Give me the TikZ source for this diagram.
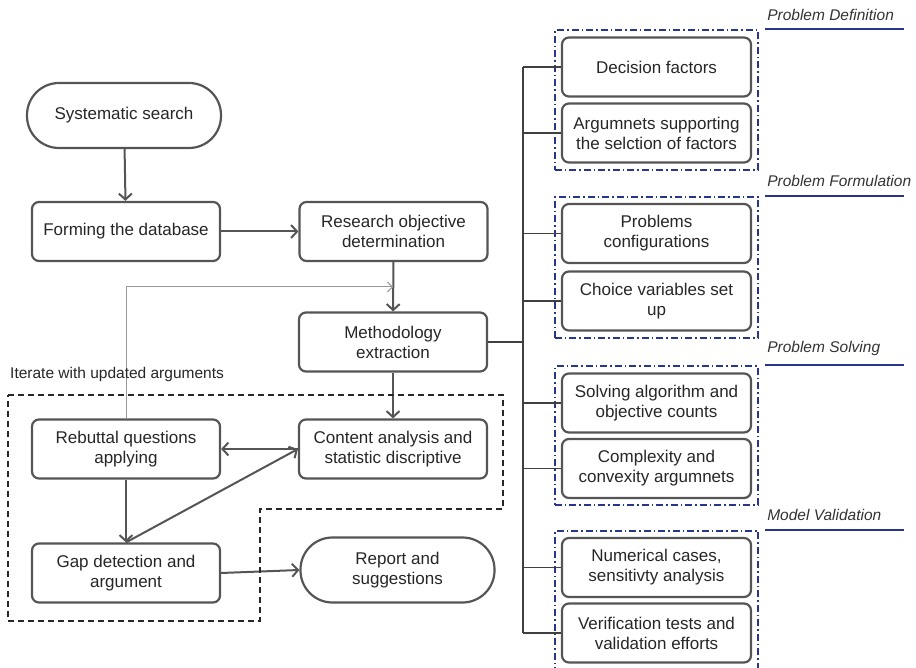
\documentclass[tikz,border=0pt]{standalone}
\usepackage{fontspec}
\setmainfont{Liberation Sans}
\usetikzlibrary{arrows.meta,positioning,fit}

\definecolor{boxgray}{HTML}{555555}
\definecolor{grpblue}{HTML}{27358A}

\begin{document}
\begin{tikzpicture}[
  x=1pt,y=-1pt,
  font=\fontsize{17}{20}\selectfont,
  box/.style={draw=boxgray,line width=2.2pt,rounded corners=7pt,align=center,minimum width=188pt,minimum height=59pt,inner sep=2pt,text=black!85},
  term/.style={box,rounded corners=32pt,minimum width=194pt,minimum height=65pt},
  rbox/.style={box,minimum width=189pt,minimum height=59pt},
  arr/.style={draw=boxgray,line width=2pt,-{Straight Barb[length=6pt,width=13pt,line width=2pt]}},
  thinarr/.style={draw=gray!80,line width=1pt,-{Straight Barb[length=5pt,width=10pt]}},
  bus/.style={draw=black!75,line width=1.3pt},
  grp/.style={draw=grpblue,line width=2pt,dash pattern=on 7pt off 3pt on 1.5pt off 3pt,inner sep=6pt},
  head/.style={font=\fontsize{15.5}{18}\selectfont\itshape,text=black!80,anchor=south west,inner sep=0pt},
  headline/.style={draw=grpblue,line width=2pt}
]
\useasboundingbox (0,0) rectangle (916,668);

% main flow
\node[term] (search) at (124,115.5) {Systematic search};
\node[box] (dbase) at (126,231.5) {Forming the database};
\node[box] (objective) at (393.5,231.5) {Research objective\\determination};
\node[box] (method) at (393,342) {Methodology\\extraction};
\node[box] (content) at (393,449) {Content analysis and\\statistic discriptive};
\node[box] (rebuttal) at (126,449) {Rebuttal questions\\applying};
\node[box] (gap) at (126,573) {Gap detection and\\argument};
\node[term] (report) at (397.5,570) {Report and\\suggestions};

% right column
\node[rbox] (decision) at (656.5,67) {Decision factors};
\node[rbox] (support) at (656.5,133) {Argumnets supporting\\the selction of factors};
\node[rbox] (config) at (656.5,233.5) {Problems\\configurations};
\node[rbox] (choice) at (656.5,301) {Choice variables set\\up};
\node[rbox] (solving) at (656.5,403) {Solving algorithm and\\objective counts};
\node[rbox] (complex) at (656.5,468.5) {Complexity and\\convexity argumnets};
\node[rbox] (numeric) at (656.5,567.5) {Numerical cases,\\sensitivty analysis};
\node[rbox] (verify) at (656.5,633) {Verification tests and\\validation efforts};

% groups
\node[grp,fit=(decision)(support)] (gdef) {};
\node[grp,fit=(config)(choice)] (gform) {};
\node[grp,fit=(solving)(complex)] (gsolve) {};
\node[grp,fit=(numeric)(verify)] (gvalid) {};

\foreach \g/\t in {gdef/Problem Definition,gform/Problem Formulation,gsolve/Problem Solving,gvalid/Model Validation}{
  \draw[headline] ([xshift=6pt]\g.north east) -- ++(139,0);
  \node[head] (h\g) at ([xshift=8pt,yshift=9pt]\g.north east) {\t};
}

% bus
\coordinate (bus) at (523,0);
\draw[bus] (decision.west -| bus) -- (verify.west -| bus);
\draw[bus] (method.east) -- (method.east -| bus);
\foreach \n in {decision,support,config,choice,solving,complex,numeric,verify}
  \draw[bus] (\n.west -| bus) -- (\n.west);

% arrows
\draw[arr] (search) -- (dbase);
\draw[arr] (dbase) -- (objective);
\draw[arr] (objective) -- (method);
\draw[arr] (method) -- (content);
\draw[arr] (content) -- (rebuttal);
\draw[arr] (rebuttal) -- (gap);
\draw[arr] (gap.north) -- (content.west);
\draw[arr] (gap.east) -- (report.west);
\coordinate (loop) at (393,287);
\draw[thinarr] (rebuttal.north) |- (loop);

% iteration region
\draw[black!85,line width=1.4pt,dash pattern=on 6pt off 4pt] (8,395) -- (503,395) -- (503,509) -- (260,509) -- (260,621) -- (8,621) -- cycle;
\node[anchor=west,inner sep=0pt,font=\fontsize{15.5}{18}\selectfont,text=black!85] (iterate) at (10,374) {Iterate with updated arguments};
\end{tikzpicture}
\end{document}
